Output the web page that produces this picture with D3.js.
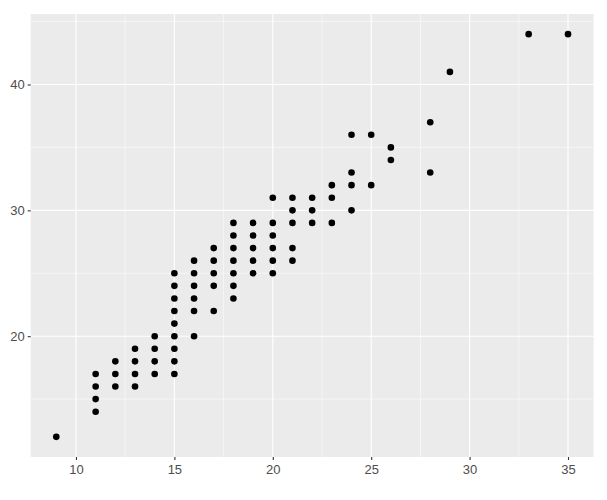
<!DOCTYPE html>
<html>
<head>
<meta charset="utf-8">
<script src="https://cdn.jsdelivr.net/npm/d3@7"></script>
<style>
  html, body { margin: 0; padding: 0; background: #ffffff; }
  svg { display: block; }
  text { font-family: "Liberation Sans", Arial, sans-serif; }
</style>
</head>
<body>
<div id="chart"></div>
<script>
// cty (x) and hwy (y) values, unique points
const ctyValues = [9, 11, 11, 11, 11, 12, 12, 12, 13, 13, 13, 13, 14, 14, 14, 14,
  15, 15, 15, 15, 15, 15, 15, 15, 15,
  16, 16, 16, 16, 16, 16,
  17, 17, 17, 17, 17,
  18, 18, 18, 18, 18, 18, 18,
  19, 19, 19, 19, 19,
  20, 20, 20, 20, 20, 20,
  21, 21, 21, 21, 21,
  22, 22, 22,
  23, 23, 23,
  24, 24, 24, 24,
  25, 25,
  26, 26,
  28, 28,
  29, 33, 35];
const hwyValues = [12, 14, 15, 16, 17, 16, 17, 18, 16, 17, 18, 19, 17, 18, 19, 20,
  17, 18, 19, 20, 21, 22, 23, 24, 25,
  20, 22, 23, 24, 25, 26,
  22, 24, 25, 26, 27,
  23, 24, 25, 26, 27, 28, 29,
  25, 26, 27, 28, 29,
  25, 26, 27, 28, 29, 31,
  26, 27, 29, 30, 31,
  29, 30, 31,
  29, 31, 32,
  30, 32, 33, 36,
  32, 36,
  34, 35,
  33, 37,
  41, 44, 44];
const xTicks = [10, 15, 20, 25, 30, 35];
const xMinor = [7.5, 12.5, 17.5, 22.5, 27.5, 32.5];
const yTicks = [20, 30, 40];
const yMinor = [15, 25, 35, 45];

const W = 607, H = 500;
const margin = { left: 30.7, right: W - 593.6, top: 14, bottom: H - 457 };

const svg = d3.select("#chart").append("svg").attr("width", W).attr("height", H);

const xExt = d3.extent(ctyValues), yExt = d3.extent(hwyValues);
const xPad = (xExt[1] - xExt[0]) * 0.05, yPad = (yExt[1] - yExt[0]) * 0.05;
const x = d3.scaleLinear().domain([xExt[0] - xPad, xExt[1] + xPad]).range([margin.left, W - margin.right]);
const y = d3.scaleLinear().domain([yExt[0] - yPad, yExt[1] + yPad]).range([H - margin.bottom, margin.top]);

// panel
svg.append("rect")
  .attr("x", x.range()[0]).attr("y", y.range()[1])
  .attr("width", x.range()[1] - x.range()[0])
  .attr("height", y.range()[0] - y.range()[1])
  .attr("fill", "#EBEBEB");

const grid = svg.append("g");
grid.selectAll("line.xminor").data(xMinor).join("line")
  .attr("x1", d => x(d)).attr("x2", d => x(d))
  .attr("y1", y.range()[0]).attr("y2", y.range()[1])
  .attr("stroke", "#ffffff").attr("stroke-width", 0.55);
grid.selectAll("line.yminor").data(yMinor).join("line")
  .attr("y1", d => y(d)).attr("y2", d => y(d))
  .attr("x1", x.range()[0]).attr("x2", x.range()[1])
  .attr("stroke", "#ffffff").attr("stroke-width", 0.55);
grid.selectAll("line.xmajor").data(xTicks).join("line")
  .attr("x1", d => x(d)).attr("x2", d => x(d))
  .attr("y1", y.range()[0]).attr("y2", y.range()[1])
  .attr("stroke", "#ffffff").attr("stroke-width", 1.1);
grid.selectAll("line.ymajor").data(yTicks).join("line")
  .attr("y1", d => y(d)).attr("y2", d => y(d))
  .attr("x1", x.range()[0]).attr("x2", x.range()[1])
  .attr("stroke", "#ffffff").attr("stroke-width", 1.1);

// axes
const xAxis = svg.append("g")
  .attr("transform", `translate(0,${y.range()[0]})`)
  .call(d3.axisBottom(x).tickValues(xTicks).tickSize(3).tickPadding(5));
const yAxis = svg.append("g")
  .attr("transform", `translate(${x.range()[0]},0)`)
  .call(d3.axisLeft(y).tickValues(yTicks).tickSize(3).tickPadding(3));
[xAxis, yAxis].forEach(a => {
  a.select(".domain").remove();
  a.selectAll(".tick line").attr("stroke", "#333333").attr("stroke-width", 1.1);
  a.selectAll(".tick text").attr("fill", "#4D4D4D")
    .style("font-family", "'Liberation Sans', Arial, sans-serif")
    .style("font-size", "13px");
});

// points
svg.append("g").selectAll("circle")
  .data(ctyValues.map((c, i) => [c, hwyValues[i]]))
  .join("circle")
  .attr("cx", d => x(d[0])).attr("cy", d => y(d[1]))
  .attr("r", 3.3).attr("fill", "#000000");
</script>
</body>
</html>
